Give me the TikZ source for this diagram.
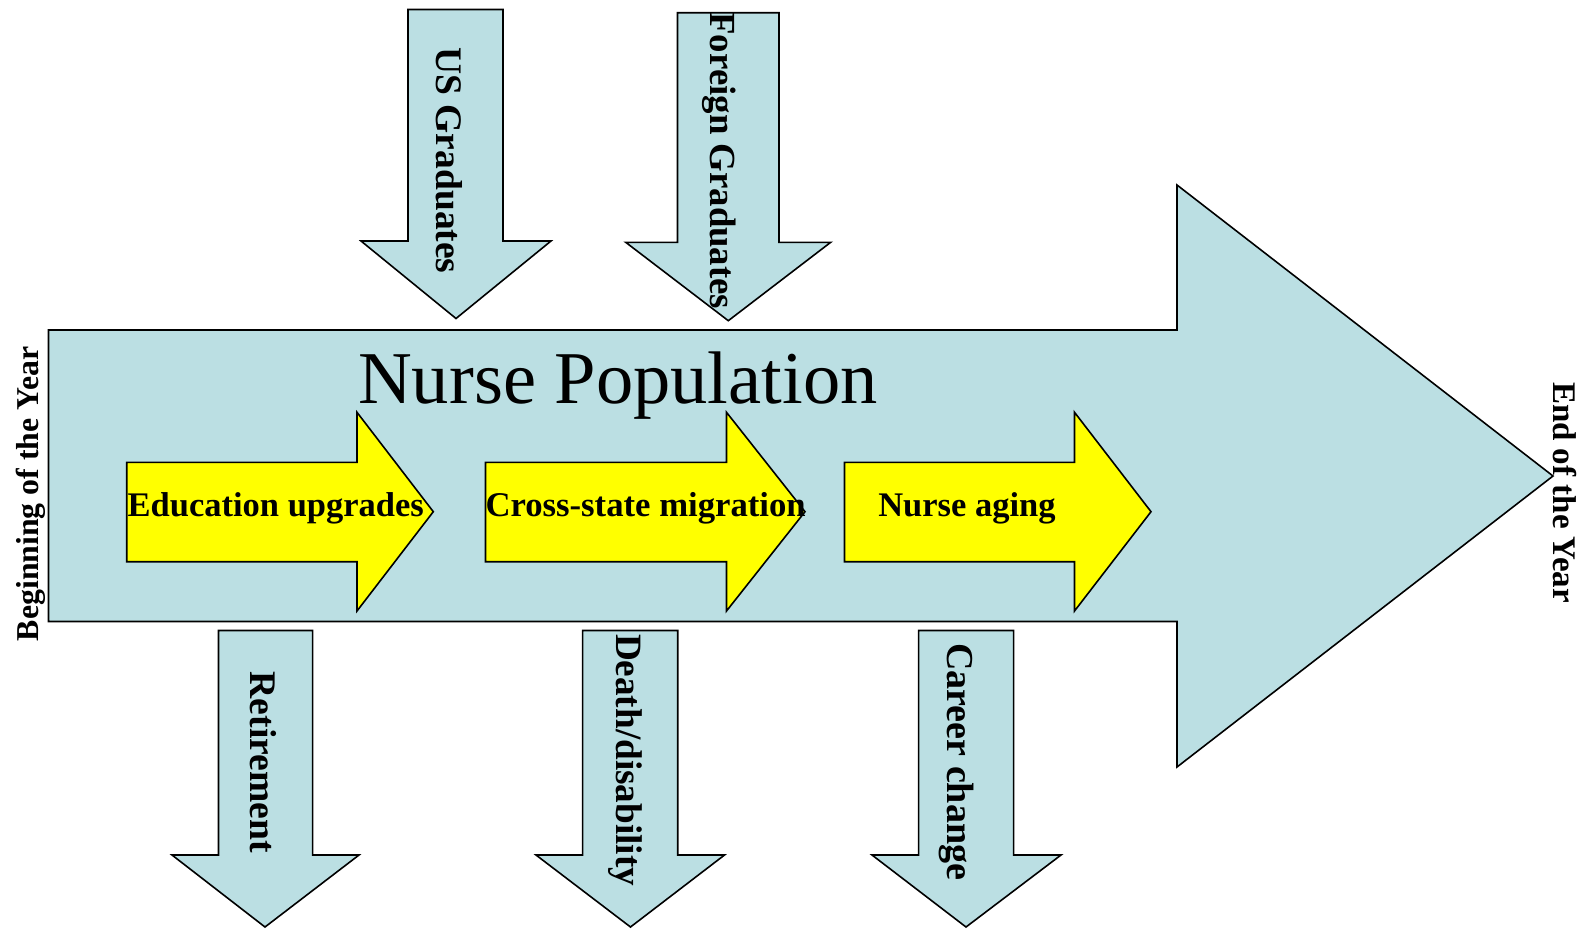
\documentclass[tikz,border=0pt]{standalone}
\usepackage{fontspec}
\setmainfont{Liberation Serif}
\definecolor{flowblue}{RGB}{187,223,227}
\definecolor{flowyellow}{RGB}{255,255,0}
\tikzset{
  bluearrow/.style={draw=black, line width=1.6pt, fill=flowblue, line join=miter},
  yellowarrow/.style={draw=black, line width=1.6pt, fill=flowyellow, line join=miter},
  lbl/.style={inner sep=0pt, outer sep=0pt, font=\bfseries},
  downlbl/.style={lbl, anchor=base west, rotate=-90},
  uplbl/.style={lbl, anchor=base west, rotate=90},
  flatlbl/.style={lbl, anchor=base west}
}
\newcommand{\fsz}[1]{\fontsize{#1}{#1}\selectfont}
\begin{document}
\begin{tikzpicture}[x=1pt, y=-1pt]
\useasboundingbox (0,0) rectangle (1586,929);
% main arrow
\draw[bluearrow] (48.5,330) -- (1177,330) -- (1177,185) -- (1553,476) -- (1177,767) -- (1177,621.5) -- (48.5,621.5) -- cycle;
% inflow arrows
\draw[bluearrow] (408,9.5) -- (503,9.5) -- (503,241) -- (551,241) -- (456,318.5) -- (361,241) -- (408,241) -- cycle;
\draw[bluearrow] (677.5,12.7) -- (779,12.7) -- (779,242.3) -- (830.7,242.3) -- (728.3,320.7) -- (625.7,242.3) -- (677.5,242.3) -- cycle;
% outflow arrows
\draw[bluearrow] (218.5,630.5) -- (312.6,630.5) -- (312.6,855) -- (359,855) -- (265,927) -- (172,855) -- (218.5,855) -- cycle;
\draw[bluearrow] (582.6,630.5) -- (677.7,630.5) -- (677.7,855) -- (724.5,855) -- (630.5,927) -- (536,855) -- (582.6,855) -- cycle;
\draw[bluearrow] (918.6,630.5) -- (1013.6,630.5) -- (1013.6,855) -- (1061,855) -- (966,927) -- (872,855) -- (918.6,855) -- cycle;
% yellow arrows
\draw[yellowarrow] (126.7,462.3) -- (357,462.3) -- (357,412.3) -- (433.3,511.7) -- (357,611) -- (357,561.7) -- (126.7,561.7) -- cycle;
\draw[yellowarrow] (485.5,462.3) -- (726.5,462.3) -- (726.5,412.3) -- (805,511.7) -- (726.5,611) -- (726.5,561.7) -- (485.5,561.7) -- cycle;
\draw[yellowarrow] (844.5,462.3) -- (1074.5,462.3) -- (1074.5,412.3) -- (1151,511.7) -- (1074.5,611) -- (1074.5,561.7) -- (844.5,561.7) -- cycle;
% texts
\node[inner sep=0pt, anchor=base west, font=\fsz{74.5}] (title) at (358,403.3) {Nurse Population};
\node[flatlbl, font=\bfseries\fsz{34.5}] (edu) at (127.7,516.7) {Education upgrades};
\node[flatlbl, font=\bfseries\fsz{34.7}] (cross) at (485.5,516.7) {Cross-state migration};
\node[flatlbl, font=\bfseries\fsz{34.5}] (aging) at (878.3,516.7) {Nurse aging};
\node[downlbl, font=\bfseries\fsz{37.5}] (usgrad) at (436.7,47.5) {US Graduates};
\node[downlbl, font=\bfseries\fsz{36.8}] (forgrad) at (710,12.5) {Foreign Graduates};
\node[downlbl, font=\bfseries\fsz{37.6}] (retire) at (250,671.7) {Retirement};
\node[downlbl, font=\bfseries\fsz{37.2}] (death) at (616,634) {Death/disability};
\node[downlbl, font=\bfseries\fsz{38.1}] (career) at (947,643) {Career change};
\node[downlbl, font=\bfseries\fsz{33}] (endyear) at (1553.5,382) {End of the Year};
\node[uplbl, font=\bfseries\fsz{31.8}] (beginyear) at (38.3,641) {Beginning of the Year};
\end{tikzpicture}
\end{document}
